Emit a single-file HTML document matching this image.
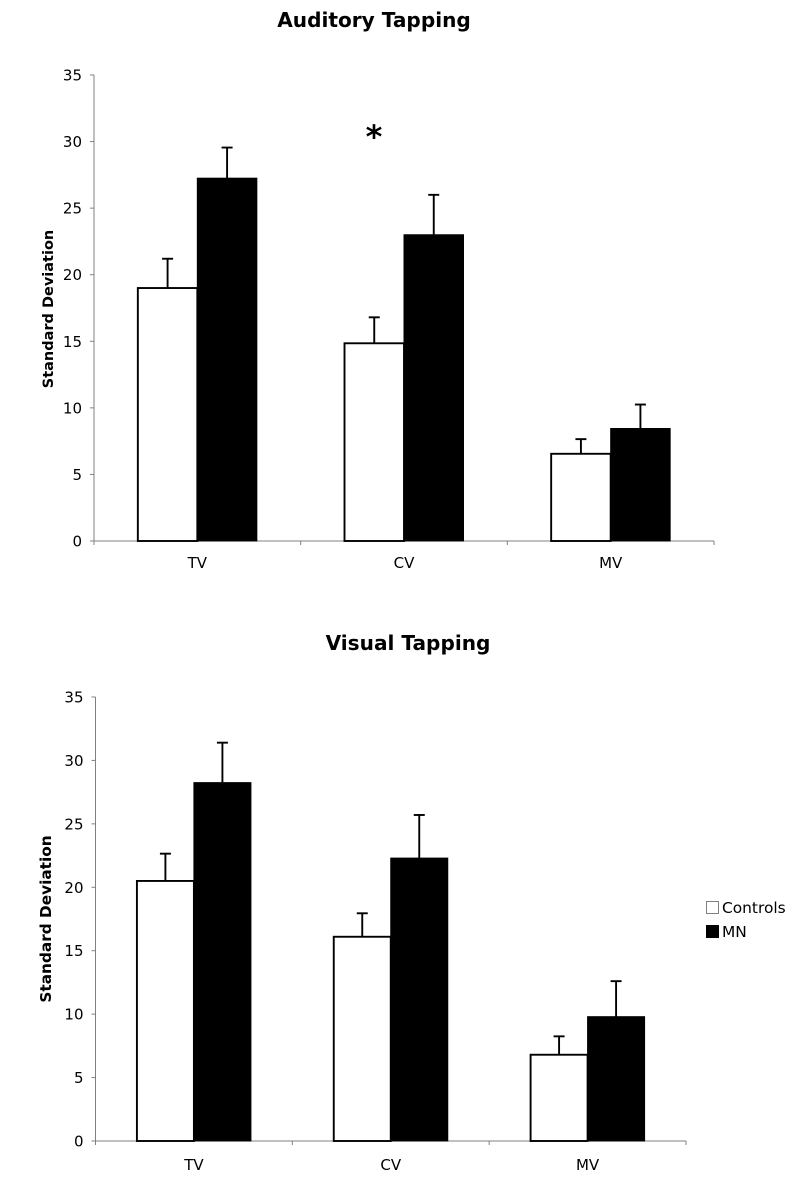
<!DOCTYPE html>
<html>
<head>
<meta charset="utf-8">
<style>
html,body{margin:0;padding:0;background:#fff;}
svg{display:block;}
text{font-family:"DejaVu Sans","Liberation Sans",sans-serif;fill:#000;}
</style>
</head>
<body>
<svg id="fig" width="800" height="1191" viewBox="0 0 800 1191" xmlns="http://www.w3.org/2000/svg"></svg>
<script>
const categories = ['TV', 'CV', 'MV'];
const yTicks = [0, 5, 10, 15, 20, 25, 30, 35];
const seriesNames = ['Controls', 'MN'];

const auditoryControls = [19, 14.85, 6.55];
const auditoryControlsErr = [2.2, 1.95, 1.1];
const auditoryMN = [27.25, 23, 8.45];
const auditoryMNErr = [2.3, 3, 1.8];

const visualControls = [20.5, 16.1, 6.8];
const visualControlsErr = [2.15, 1.85, 1.45];
const visualMN = [28.25, 22.3, 9.8];
const visualMNErr = [3.15, 3.4, 2.8];

const svg = document.getElementById('fig');
function add(parent, tag, attrs, txt) {
  const el = document.createElementNS('http://www.w3.org/2000/svg', tag);
  for (const k in attrs) el.setAttribute(k, attrs[k]);
  if (txt !== undefined) el.textContent = txt;
  parent.appendChild(el);
  return el;
}

function drawChart(cfg) {
  const g = add(svg, 'g', {});
  
  
  const yMax = yTicks[yTicks.length - 1];
  const yScale = v => cfg.y0 - (v / yMax) * (cfg.y0 - cfg.yTop);
  const groupW = (cfg.xEnd - cfg.x0) / categories.length;
  const xScale = (i, s) => cfg.x0 + groupW * i + (groupW - 2 * cfg.barW) / 2 + s * cfg.barW;

  const title = add(g, 'text', {x: cfg.titleX, y: cfg.titleY, 'text-anchor': 'middle', 'font-size': 20.1, 'font-weight': 'bold'}, cfg.title);
  
  

  const yLabel = add(g, 'text', {transform: 'translate(' + cfg.yLabelX + ',' + cfg.yLabelY + ') rotate(-90)', 'text-anchor': 'middle', 'font-size': cfg.yLabelSize, 'font-weight': 'bold'}, 'Standard Deviation');
  
  

  const yAxis = add(g, 'line', {x1: cfg.x0, x2: cfg.x0, y1: yScale(yMax), y2: cfg.y0, stroke: '#808080', 'stroke-width': 1});
  
  
  const xAxis = add(g, 'line', {x1: cfg.x0, x2: cfg.xEnd, y1: cfg.y0, y2: cfg.y0, stroke: '#808080', 'stroke-width': 1});
  
  

  yTicks.forEach(t => {
    const y = yScale(t);
    const tick = add(g, 'line', {x1: cfg.x0 - 4, x2: cfg.x0, y1: y, y2: y, stroke: '#808080', 'stroke-width': 1});
    
    
    const lab = add(g, 'text', {x: cfg.x0 - 12, y: y + 5.5, 'text-anchor': 'end', 'font-size': 15}, t);
    
    
  });

  for (let i = 0; i <= categories.length; i++) {
    const x = cfg.x0 + groupW * i;
    const tick = add(g, 'line', {x1: x, x2: x, y1: cfg.y0, y2: cfg.y0 + 4, stroke: '#808080', 'stroke-width': 1});
    
    
  }

  categories.forEach((c, i) => {
    const cx = cfg.x0 + groupW * (i + 0.5);
    const lab = add(g, 'text', {x: cx, y: cfg.y0 + cfg.xLabelDy, 'text-anchor': 'middle', 'font-size': 15}, c);
    
    

    const drawErr = (s, val, err) => {
      const ex = xScale(i, s) + cfg.barW / 2;
      const top = yScale(val + err);
      const stem = add(g, 'line', {x1: ex, x2: ex, y1: yScale(val), y2: top, stroke: '#000', 'stroke-width': 1.9});
      
      
      const cap = add(g, 'line', {x1: ex - 5.5, x2: ex + 5.5, y1: top, y2: top, stroke: '#000', 'stroke-width': 1.9});
      
      
    };
    drawErr(0, cfg.a[i], cfg.aErr[i]);
    drawErr(1, cfg.b[i], cfg.bErr[i]);

    const xa = xScale(i, 0), ya = yScale(cfg.a[i]);
    const barA = add(g, 'rect', {x: xa, y: ya, width: cfg.barW, height: cfg.y0 - ya, fill: '#fff', stroke: '#000', 'stroke-width': 1.9});
    
    
    const xb = xScale(i, 1), yb = yScale(cfg.b[i]);
    const barB = add(g, 'rect', {x: xb, y: yb, width: cfg.barW, height: cfg.y0 - yb, fill: '#000', stroke: '#000', 'stroke-width': 1});
    
    
  });
}

drawChart({name: 'auditory-chart', title: 'Auditory Tapping', titleX: 374, titleY: 27, x0: 94, xEnd: 714, y0: 541, yTop: 75, barW: 59.5,
  yLabelX: 53, yLabelY: 309, yLabelSize: 14.5, xLabelDy: 27, a: auditoryControls, aErr: auditoryControlsErr, b: auditoryMN, bErr: auditoryMNErr});
drawChart({name: 'visual-chart', title: 'Visual Tapping', titleX: 408, titleY: 650, x0: 95.5, xEnd: 686, y0: 1141, yTop: 697, barW: 57,
  yLabelX: 51, yLabelY: 919, yLabelSize: 15.3, xLabelDy: 29, a: visualControls, aErr: visualControlsErr, b: visualMN, bErr: visualMNErr});

const star = add(svg, 'text', {x: 374, y: 148, 'text-anchor': 'middle', 'font-size': 32, 'font-weight': 'bold'}, '*');



const legend = add(svg, 'g', {});


seriesNames.forEach((n, i) => {
  const y = 902 + i * 24;
  const sw = add(legend, 'rect', {x: 706.5, y: y - 0.5, width: 12, height: 12, fill: i === 0 ? '#fff' : '#000', stroke: i === 0 ? '#808080' : '#000', 'stroke-width': 1});
  
  
  const t = add(legend, 'text', {x: 722, y: y + 11, 'font-size': 15.4}, n);
  
  
});
</script>
</body>
</html>
